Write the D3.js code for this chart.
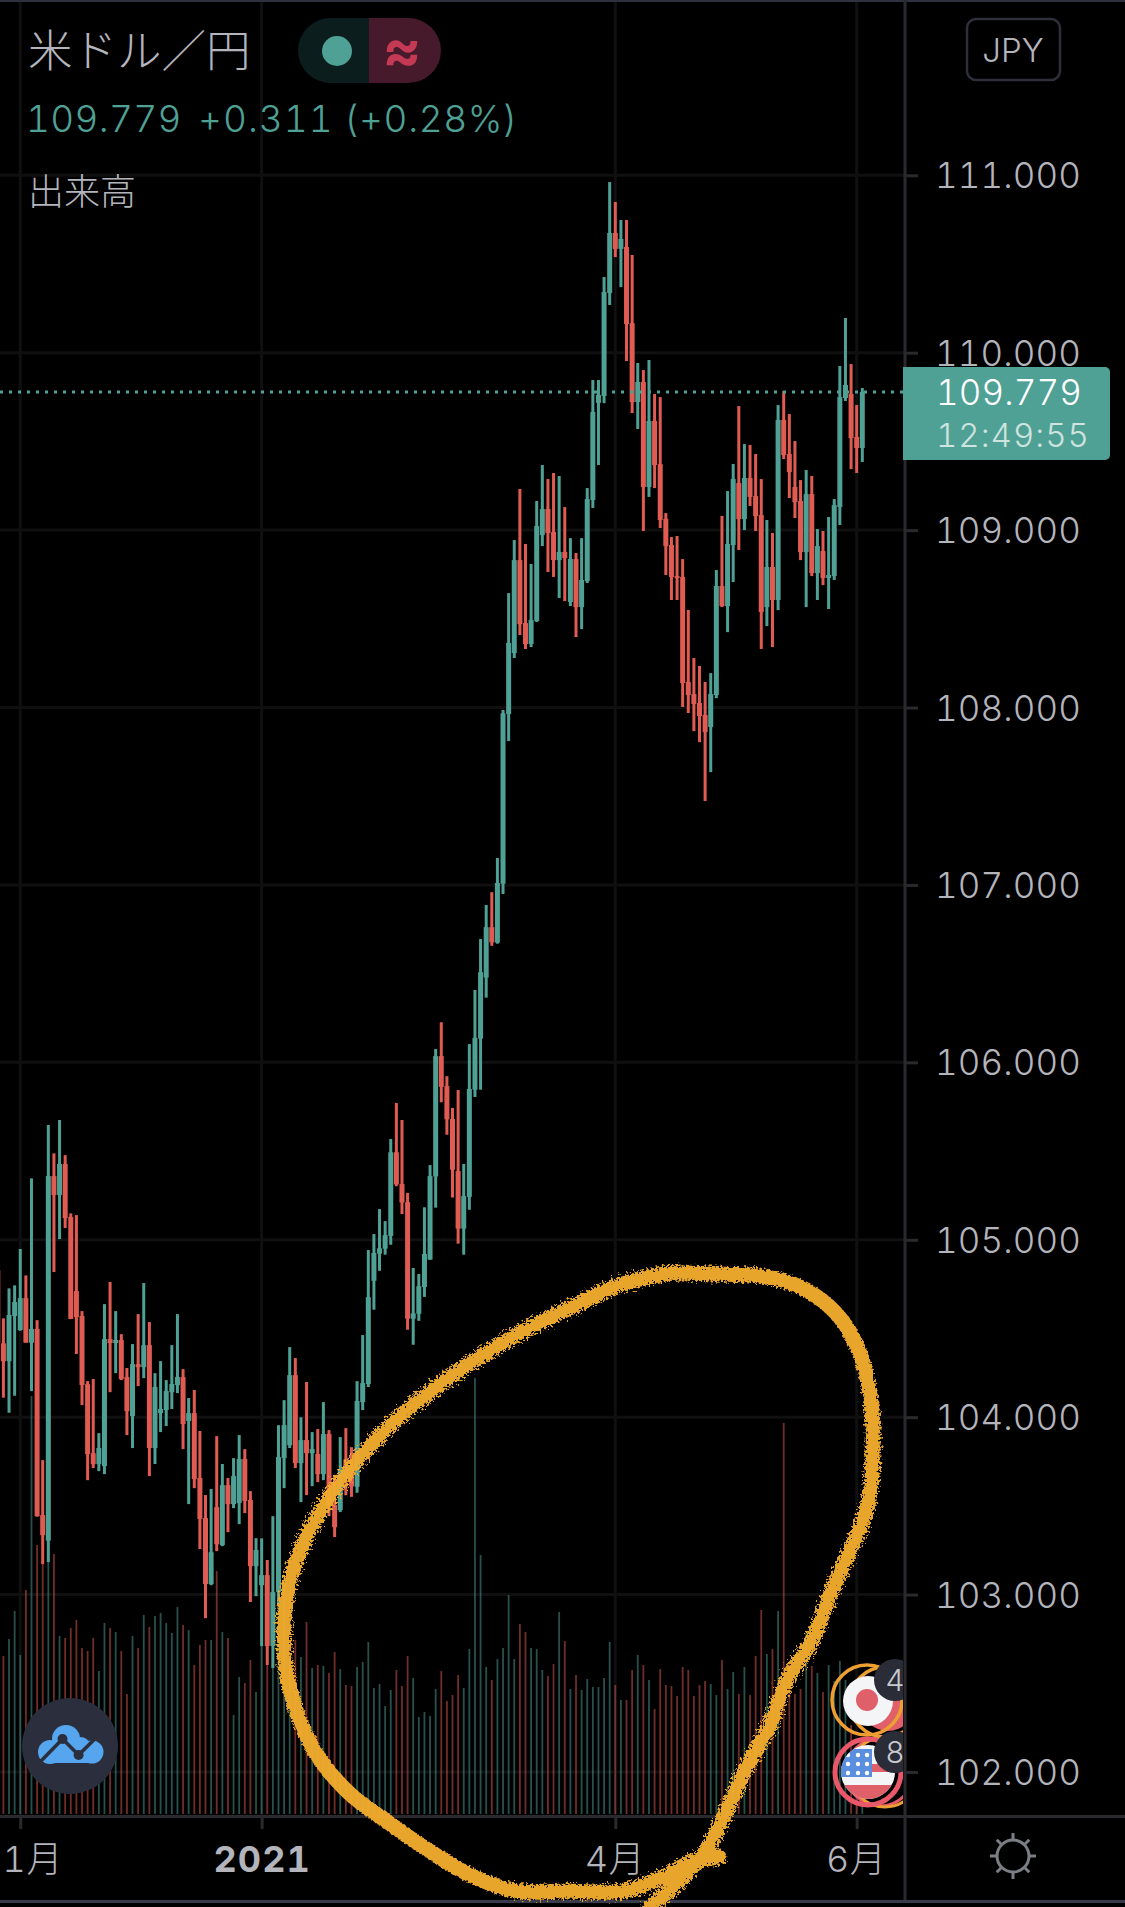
<!DOCTYPE html>
<html lang="ja">
<head>
<meta charset="UTF-8">
<title>米ドル／円</title>
<script src="https://d3js.org/d3.v7.min.js"></script>
<style>
  html, body { margin: 0; padding: 0; background: #000; }
  svg { display: block; }
  text { font-family: Inter, "Noto Sans CJK JP", sans-serif; font-variant-numeric: tabular-nums; }
  .jp { font-family: "Noto Sans CJK JP", sans-serif; }
</style>
</head>
<body>
<div id="chart"></div>
<script>
// candle values, oldest first
const opens = [104.829,104.416,104.316,104.570,104.491,104.671,104.420,104.497,103.448,103.304,
  105.359,105.252,105.427,105.128,104.711,104.570,104.186,103.797,103.735,103.724,
  104.440,104.418,104.435,104.226,104.006,104.299,104.282,104.406,103.826,104.023,
  104.040,104.141,104.181,104.226,103.978,104.023,103.657,103.431,103.059,103.493,
  103.279,103.617,103.510,103.516,103.764,103.533,103.160,103.053,103.110,102.710,
  103.014,103.769,103.842,104.237,103.741,103.871,103.797,103.792,103.679,103.905,
  103.504,103.476,103.762,103.720,103.608,104.085,104.187,104.769,104.922,104.950,
  105.022,105.493,105.314,105.212,104.555,104.583,104.734,104.888,105.357,106.035,
  105.866,105.681,105.387,105.063,105.242,105.846,106.134,106.478,106.762,106.675,
  107.007,107.963,108.307,108.831,108.476,108.358,108.488,108.972,109.119,108.989,
  108.831,108.877,108.595,108.837,108.566,108.713,109.170,109.717,109.756,110.337,
  110.675,110.585,110.596,110.167,109.722,109.835,109.243,109.615,109.372,109.063,
  108.916,108.741,108.736,108.144,108.076,108.025,107.958,107.890,108.070,108.685,
  108.572,108.916,109.265,109.062,109.294,109.192,109.085,108.566,108.792,108.606,
  109.621,109.429,109.243,109.164,108.876,109.203,108.758,108.882,108.730,108.741,
  109.130,109.745,109.767,109.525,109.463];
const closes = [104.416,104.316,104.576,104.649,104.671,104.420,104.497,103.442,103.335,105.359,
  105.252,105.427,105.122,104.553,104.564,104.181,103.792,103.735,103.826,104.440,
  104.418,104.435,104.215,104.034,104.299,104.282,104.406,103.826,104.170,104.046,
  104.147,104.187,104.226,103.961,104.023,103.651,103.426,103.059,103.239,103.284,
  103.617,103.510,103.668,103.764,103.527,103.160,103.251,103.110,102.710,103.014,
  103.775,103.955,104.237,103.741,103.871,103.797,103.820,103.679,103.905,103.504,
  103.380,103.707,103.664,103.610,104.091,104.192,104.676,104.926,104.952,105.026,
  105.493,105.312,105.210,104.555,104.585,104.738,104.920,105.359,106.035,105.862,
  105.679,105.395,105.063,105.246,105.850,106.138,106.508,106.762,106.677,107.011,
  107.967,108.364,108.831,108.470,108.358,108.493,109.023,109.119,108.984,108.831,
  108.877,108.843,108.837,108.566,108.719,109.175,109.666,109.762,110.342,110.675,
  110.585,110.641,110.162,109.722,109.835,109.243,109.615,109.367,109.057,108.910,
  108.735,108.730,108.138,108.071,108.020,107.952,107.862,108.076,108.685,108.572,
  108.922,109.288,109.062,109.294,109.187,109.079,108.538,108.792,108.606,109.621,
  109.423,109.327,109.158,108.876,109.203,108.758,108.910,108.730,108.747,109.141,
  109.750,109.818,109.519,109.463,109.779];
const highs = [104.829,104.557,104.726,104.743,104.948,104.799,105.346,104.547,103.758,105.647,
  105.487,105.675,105.477,105.149,105.139,104.598,104.203,104.215,103.910,104.637,
  104.762,104.598,104.468,104.277,104.412,104.581,104.756,104.536,104.248,104.316,
  104.209,104.406,104.581,104.271,104.108,104.153,103.922,103.561,103.595,103.893,
  103.736,103.657,103.769,103.899,103.820,103.583,103.318,103.317,103.195,103.442,
  103.955,104.096,104.395,104.333,103.999,104.198,103.916,103.933,104.085,103.927,
  103.668,103.888,103.938,103.831,104.203,104.463,104.942,105.032,105.173,105.105,
  105.568,105.771,105.675,105.264,104.841,104.807,105.183,105.421,106.075,106.226,
  105.922,105.743,105.844,105.427,106.103,106.408,106.695,106.887,106.959,107.152,
  107.986,108.645,108.944,109.232,108.922,108.809,109.164,109.367,109.288,109.322,
  109.305,109.130,108.955,108.871,108.955,109.237,109.846,109.846,110.427,110.962,
  110.850,110.748,110.748,110.551,109.942,109.902,109.959,109.767,109.750,109.096,
  108.961,108.967,108.837,108.550,108.279,108.234,108.144,108.194,108.775,109.080,
  109.220,109.373,109.699,109.485,109.480,109.429,109.288,109.057,108.984,109.705,
  109.784,109.654,109.502,109.282,109.339,109.305,109.006,108.995,109.074,109.175,
  109.925,110.196,109.936,109.705,109.801];
const lows = [104.134,104.110,104.025,104.121,104.487,104.420,104.147,103.439,103.172,103.183,
  104.818,105.004,105.066,104.553,104.356,104.068,103.645,103.713,103.696,103.679,
  104.141,104.248,104.209,103.899,103.826,104.175,104.220,103.668,103.736,103.916,
  103.950,104.046,104.136,103.820,103.510,103.600,103.257,102.867,103.053,103.245,
  103.273,103.352,103.487,103.397,103.459,102.958,102.991,102.710,102.603,102.586,
  102.946,103.600,103.826,103.713,103.521,103.561,103.611,103.634,103.645,103.443,
  103.324,103.465,103.560,103.551,103.574,104.040,104.170,104.606,104.825,104.916,
  104.972,105.302,105.145,104.493,104.408,104.543,104.678,104.888,105.181,105.775,
  105.592,105.238,104.978,104.916,105.169,105.805,105.846,106.365,106.657,106.669,
  106.949,107.811,108.279,108.409,108.330,108.341,108.482,108.910,108.764,108.736,
  108.617,108.600,108.572,108.397,108.442,108.702,109.125,109.367,109.716,110.269,
  110.539,110.370,109.953,109.660,109.570,108.995,109.187,109.237,109.012,108.747,
  108.606,108.606,108.003,107.969,107.867,107.805,107.473,107.636,108.053,108.566,
  108.425,108.707,108.888,109.000,109.136,108.995,108.330,108.459,108.341,108.549,
  109.401,109.181,109.068,108.831,108.566,108.741,108.606,108.690,108.555,108.719,
  109.029,109.728,109.344,109.322,109.384];
// volume in relative units, no scale is printed on the chart
const volumes = [130,158,175,203,159,224,418,269,254,260,260,178,176,186,194,166,163,176,143,191,
  186,182,163,120,178,166,199,187,198,201,191,181,207,189,184,149,169,174,174,243,
  182,176,99,137,131,154,122,170,165,160,209,238,155,174,157,192,146,149,148,141,
  162,145,129,128,147,152,172,126,130,108,124,144,128,158,136,97,102,98,125,143,
  113,119,139,126,165,436,259,147,134,155,166,219,155,190,182,166,165,144,138,150,
  202,173,125,139,124,135,127,127,136,172,129,114,114,144,159,149,134,105,145,129,
  128,118,147,144,118,129,133,130,119,154,125,142,120,147,119,158,204,160,165,203,
  391,150,120,125,183,148,141,122,149,133,153,134,89,60,50];

const priceTicks = [102,103,104,105,106,107,108,109,110,111];
const timeTickIdx = [4,47,110,153];
const timeLabels = ["1月","2021","4月","6月"];
const lastPrice = 109.779;
const lastText = ["109.779","+0.311","(+0.28%)"];

// hand drawn ring over the volume bars, screen pixels
const ringPts = [[719,1857],[689,1863],[665,1876],[626,1891],[567,1891],[515,1891],[468,1874],[428,1850],
  [389,1823],[349,1793],[317,1755],[294,1704],[284,1648],[288,1589],[302,1546],[325,1504],[357,1461],
  [397,1419],[436,1387],[480,1357],[527,1329],[570,1308],[614,1287],[665,1274],[713,1274],[760,1276],
  [800,1287],[835,1312],[859,1351],[871,1402],[873,1453],[869,1500],[861,1526],[850,1550],[831,1593],[812,1640],
  [788,1678],[768,1729],[744,1772],[725,1814],[705,1852],[673,1887],[650,1907]];

const W = 1125, H = 1907;
const paneRight = 905, paneBottom = 1816;
const upCol = "#4fa195", downCol = "#e05c53", labelCol = "#b4b5bc", gridCol = "#101010", edgeCol = "#2a2a2e";

const candles = opens.map((o, i) => ({i, o, c: closes[i], h: highs[i], l: lows[i], v: volumes[i]}));
const colOf = d => d.c >= d.o ? upCol : downCol;

const x = d3.scaleLinear().domain([0, 154]).range([-2.2, 862.3]);
const y = d3.scaleLinear().domain([102, 111]).range([1772, 175.3]);
const yVol = d3.scaleLinear().domain([0, 500]).range([1814, 1314]);

const svg = d3.select("#chart").append("svg").attr("width", W).attr("height", H);
svg.append("rect").attr("width", W).attr("height", H).attr("fill", "#000");

const defs = svg.append("defs");
defs.append("clipPath").attr("id", "pane").append("rect").attr("width", paneRight).attr("height", paneBottom);
defs.append("clipPath").attr("id", "markers").append("rect").attr("x", 800).attr("y", 1600).attr("width", 103).attr("height", 216);
defs.append("clipPath").attr("id", "usFlag").append("circle").attr("cx", 868).attr("cy", 1772).attr("r", 27);
const rough = defs.append("filter").attr("id", "rough").attr("x", "-5%").attr("y", "-5%").attr("width", "110%").attr("height", "110%");
rough.append("feTurbulence").attr("type", "fractalNoise").attr("baseFrequency", 0.45).attr("numOctaves", 3).attr("seed", 4).attr("result", "n");
rough.append("feDisplacementMap").attr("in", "SourceGraphic").attr("in2", "n").attr("scale", 11);

// grid
const grid = svg.append("g").attr("clip-path", "url(#pane)");
grid.selectAll(".h").data(priceTicks).join("line")
  .attr("x1", 0).attr("x2", paneRight).attr("y1", d => y(d)).attr("y2", d => y(d))
  .attr("stroke", gridCol).attr("stroke-width", 3);
grid.selectAll(".v").data(timeTickIdx).join("line")
  .attr("x1", d => x(d)).attr("x2", d => x(d)).attr("y1", 0).attr("y2", paneBottom)
  .attr("stroke", gridCol).attr("stroke-width", 3);

// volume
const plot = svg.append("g").attr("clip-path", "url(#pane)");
plot.append("g").selectAll("rect").data(candles).join("rect")
  .attr("x", d => x(d.i) - 0.9).attr("width", 1.8)
  .attr("y", d => yVol(d.v)).attr("height", d => yVol(0) - yVol(d.v))
  .attr("fill", colOf).attr("opacity", 0.5);

// candles
plot.append("g").selectAll("rect").data(candles).join("rect")
  .attr("x", d => x(d.i) - 1.5).attr("width", 3)
  .attr("y", d => y(d.h)).attr("height", d => y(d.l) - y(d.h))
  .attr("fill", colOf);
plot.append("g").selectAll("rect").data(candles).join("rect")
  .attr("x", d => x(d.i) - 2.5).attr("width", 5)
  .attr("y", d => y(Math.max(d.o, d.c)))
  .attr("height", d => Math.max(2, Math.abs(y(d.o) - y(d.c))))
  .attr("fill", colOf);

// last price line
plot.append("line").attr("x1", 0).attr("x2", paneRight)
  .attr("y1", y(lastPrice)).attr("y2", y(lastPrice))
  .attr("stroke", upCol).attr("stroke-width", 3).attr("stroke-dasharray", "3,6");

// right axis
const yAxis = svg.append("g").attr("transform", `translate(${paneRight},0)`)
  .call(d3.axisRight(y).tickValues(priceTicks).tickSize(13).tickPadding(17).tickFormat(d3.format(".3f")));
yAxis.select(".domain").remove();
yAxis.selectAll("line").attr("stroke", edgeCol).attr("stroke-width", 3);
yAxis.selectAll("text").attr("fill", labelCol).attr("font-size", 35).attr("font-weight", 300)
  .attr("dy", "0.36em").attr("letter-spacing", 0.1)
  .style("font-family", "Inter, sans-serif");

// bottom axis
const xAxis = svg.append("g").attr("transform", `translate(0,${paneBottom})`)
  .call(d3.axisBottom(x).tickValues(timeTickIdx).tickSize(13).tickPadding(17).tickFormat((d, i) => timeLabels[i]));
xAxis.select(".domain").remove();
xAxis.selectAll("line").attr("stroke", edgeCol).attr("stroke-width", 3);
xAxis.selectAll("text").attr("fill", labelCol).attr("font-size", 36).attr("font-weight", (d, i) => i === 1 ? 700 : 300)
  .attr("letter-spacing", (d, i) => i === 1 ? 1 : 0.5)
  .attr("dx", (d, i) => i === 0 ? 12 : (i === 1 ? 0 : -1))
  .style("font-family", 'Inter, "Noto Sans CJK JP", sans-serif');

// frame lines
svg.append("rect").attr("width", W).attr("height", 2).attr("fill", "#2f3140");
svg.append("rect").attr("x", paneRight - 1.5).attr("width", 3).attr("height", 1900).attr("fill", edgeCol);
svg.append("rect").attr("y", paneBottom - 1).attr("width", W).attr("height", 3).attr("fill", edgeCol);
svg.append("rect").attr("y", 1900).attr("width", W).attr("height", 3).attr("fill", "#3a3b4a");

// price tag
svg.append("line").attr("x1", paneRight).attr("x2", 918).attr("y1", y(lastPrice)).attr("y2", y(lastPrice))
  .attr("stroke", "#cfe3df").attr("stroke-width", 3);
svg.append("path").attr("fill", upCol)
  .attr("d", "M903,367H1105a5,5 0 0 1 5,5V455a5,5 0 0 1 -5,5H903Z");
svg.append("text").attr("x", 936).attr("y", y(lastPrice) + 13).attr("fill", "#fff")
  .attr("font-size", 35).attr("font-weight", 300).attr("letter-spacing", 0.1).text(d3.format(".3f")(lastPrice));
svg.append("text").attr("x", 936).attr("y", 447).attr("fill", "#cfe3df")
  .attr("font-size", 33).attr("font-weight", 300).attr("letter-spacing", 1).text("12:49:55");

// header
[[26, 0, 0.3], [198, 1, 1], [344, 2, 0.6]].forEach(p => {
  svg.append("text").attr("x", p[0]).attr("y", 132).attr("fill", upCol)
    .attr("font-size", 37).attr("font-weight", 300).attr("letter-spacing", p[2]).text(lastText[p[1]]);
});
svg.append("text").attr("class", "jp").attr("x", 28).attr("y", 67).attr("fill", labelCol)
  .attr("font-size", 44.5).attr("font-weight", 300).text("米ドル／円");
svg.append("text").attr("class", "jp").attr("x", 28).attr("y", 205).attr("fill", labelCol)
  .attr("font-size", 36).attr("font-weight", 300).text("出来高");

// status pill
svg.append("path").attr("fill", "#0b1e1d").attr("d", "M369,18H331a33,32.5 0 0 0 0,65H369Z");
svg.append("path").attr("fill", "#471a2b").attr("d", "M369,18H408a33,32.5 0 0 1 0,65H369Z");
svg.append("ellipse").attr("cx", 337).attr("cy", 51).attr("rx", 15).attr("ry", 15).attr("fill", upCol);
svg.append("text").attr("x", 402).attr("y", 70).attr("text-anchor", "middle").attr("fill", "#c43a55")
  .attr("font-size", 58).attr("font-weight", 700).text("≈");

// currency box
svg.append("rect").attr("x", 967).attr("y", 19).attr("width", 93).attr("height", 61).attr("rx", 9)
  .attr("fill", "none").attr("stroke", "#2d2f3b").attr("stroke-width", 2.5);
svg.append("text").attr("x", 1013).attr("y", 62).attr("text-anchor", "middle").attr("fill", labelCol)
  .attr("font-size", 33).attr("font-weight", 300).text("JPY");

// logo
const logo = svg.append("g");
logo.append("circle").attr("cx", 70).attr("cy", 1746).attr("r", 48).attr("fill", "#2a2e3d");
[[66,1739,14],[50,1752,12],[92,1752,11.5],[80,1748,11]].forEach(c => {
  logo.append("circle").attr("cx", c[0]).attr("cy", c[1]).attr("r", c[2]).attr("fill", "#55a6ee");
});
logo.append("rect").attr("x", 48).attr("y", 1750).attr("width", 44).attr("height", 13).attr("fill", "#55a6ee");
logo.append("polyline").attr("points", "41,1761 62.5,1739 78.6,1755 95.7,1738")
  .attr("fill", "none").attr("stroke", "#2a2e3d").attr("stroke-width", 3.5);
[[62.5,1739],[78.6,1755]].forEach(c => {
  logo.append("circle").attr("cx", c[0]).attr("cy", c[1]).attr("r", 5).attr("fill", "#2a2e3d");
});

// event markers
const mk = svg.append("g").attr("clip-path", "url(#markers)");
mk.append("circle").attr("cx", 888).attr("cy", 1705).attr("r", 26).attr("fill", "#e0606a");
mk.append("circle").attr("cx", 885).attr("cy", 1702).attr("r", 35).attr("fill", "none").attr("stroke", "#ef9f32").attr("stroke-width", 3.5);
mk.append("circle").attr("cx", 868).attr("cy", 1701).attr("r", 25).attr("fill", "#f4f5f7");
mk.append("circle").attr("cx", 867).attr("cy", 1700).attr("r", 11).attr("fill", "#e0606a");
mk.append("circle").attr("cx", 867).attr("cy", 1700).attr("r", 35).attr("fill", "none").attr("stroke", "#ef9f32").attr("stroke-width", 3.5);
mk.append("circle").attr("cx", 880).attr("cy", 1772).attr("r", 34).attr("fill", "none").attr("stroke", "#e8586a").attr("stroke-width", 3);
mk.append("circle").attr("cx", 885).attr("cy", 1772).attr("r", 35).attr("fill", "none").attr("stroke", "#ef9f32").attr("stroke-width", 3);
const us = mk.append("g").attr("clip-path", "url(#usFlag)");
us.append("rect").attr("x", 840).attr("y", 1745).attr("width", 56).attr("height", 54).attr("fill", "#f4f5f7");
us.append("rect").attr("x", 840).attr("y", 1764).attr("width", 56).attr("height", 8).attr("fill", "#e0606a");
us.append("rect").attr("x", 840).attr("y", 1785).attr("width", 56).attr("height", 14).attr("fill", "#e0606a");
us.append("rect").attr("x", 840).attr("y", 1749).attr("width", 32).attr("height", 28).attr("fill", "#5a8fe0");
d3.cross([848,858,867], [1755,1764,1773]).forEach(p => {
  us.append("circle").attr("cx", p[0]).attr("cy", p[1]).attr("r", 2.2).attr("fill", "#fff");
});
mk.append("circle").attr("cx", 868).attr("cy", 1772).attr("r", 33).attr("fill", "none").attr("stroke", "#e8586a").attr("stroke-width", 5);
[[895,1680,"4"],[895,1752,"8"]].forEach(b => {
  mk.append("circle").attr("cx", b[0]).attr("cy", b[1]).attr("r", 21).attr("fill", "#2a2c37");
  mk.append("text").attr("x", b[0]).attr("y", b[1] + 11).attr("text-anchor", "middle").attr("fill", "#c8c9cf")
    .attr("font-size", 30).attr("font-weight", 300).text(b[2]);
});

// settings icon
const sun = svg.append("g").attr("transform", "translate(1013,1856)");
sun.append("circle").attr("r", 16).attr("fill", "none").attr("stroke", "#7b7f85").attr("stroke-width", 3);
sun.selectAll("line").data(d3.range(8)).join("line")
  .attr("x2", 0).attr("y1", -17).attr("y2", -23)
  .attr("transform", d => `rotate(${d * 45})`)
  .attr("stroke", "#7b7f85").attr("stroke-width", 3);

// ring
svg.append("path").attr("d", d3.line().curve(d3.curveCatmullRom)(ringPts))
  .attr("fill", "none").attr("stroke", "#f2ac2e").attr("stroke-width", 15)
  .attr("stroke-linecap", "round").attr("opacity", 0.96).attr("filter", "url(#rough)");
</script>
</body>
</html>
